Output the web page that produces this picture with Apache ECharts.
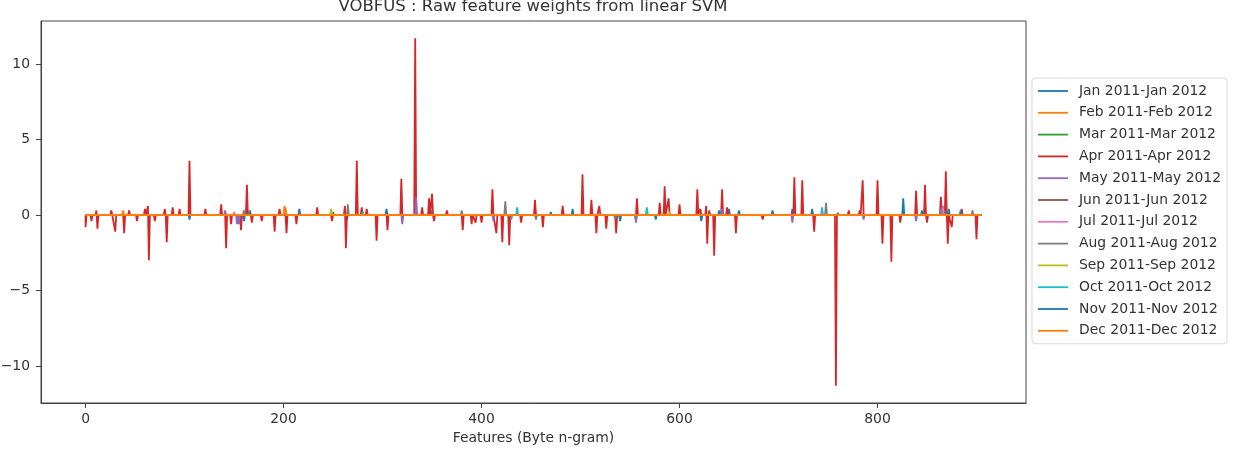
<!DOCTYPE html>
<html>
<head>
<meta charset="utf-8">
<script src="https://cdn.jsdelivr.net/npm/echarts@6/dist/echarts.min.js"></script>
<style>
  html, body { margin: 0; padding: 0; background: #fff; }
  #chart { width: 1233px; height: 449px; }
</style>
</head>
<body>
<div id="chart"></div>
<script>
// legend names, in plot order
const seriesNames = [
  'Jan 2011-Jan 2012', 'Feb 2011-Feb 2012', 'Mar 2011-Mar 2012', 'Apr 2011-Apr 2012',
  'May 2011-May 2012', 'Jun 2011-Jun 2012', 'Jul 2011-Jul 2012', 'Aug 2011-Aug 2012',
  'Sep 2011-Sep 2012', 'Oct 2011-Oct 2012', 'Nov 2011-Nov 2012', 'Dec 2011-Dec 2012'
];
const seriesColors = ['#1f77b4', '#ff7f0e', '#2ca02c', '#d62728', '#9467bd', '#8c564b',
  '#e377c2', '#7f7f7f', '#bcbd22', '#17becf', '#1f77b4', '#ff7f0e'];

const xTicks = [0, 200, 400, 600, 800];
const yTicks = [-10, -5, 0, 5, 10];
const lastFeature = 905;

// non-zero weights: [feature index, weight]
const janW = [[105, -0.3], [160, -0.4], [166, 0.3], [216, 0.4], [264, -0.3], [304, 0.4], [470, 0.2],
  [482, 0.3], [492, 0.4], [540, -0.4], [576, -0.3], [622, -0.4], [650, 0.4], [694, 0.3], [714, 0.4],
  [734, 0.4], [800, 0.4]];
const febW = [[38, 0.3], [202, 0.5]];
const marW = [[250, 0.2], [760, 0.15]];
const aprW = [[0, -0.8], [6, -0.4], [11, 0.3], [12, -0.9], [26, 0.3], [30, -1.1], [39, -1.2], [44, 0.3],
  [52, -0.4], [60, 0.4], [63, 0.6], [64, -3.0], [70, -0.4], [80, 0.4], [82, -1.8], [88, 0.5], [95, 0.4],
  [105, 3.6], [121, 0.4], [137, 0.7], [142, -2.2], [147, -0.6], [157, -1.0], [163, 2.0], [168, -0.5],
  [178, -0.4], [191, -1.1], [196, 0.4], [203, -1.2], [213, -0.6], [234, 0.5], [249, -0.4], [262, 0.6],
  [263, -2.2], [274, 3.6], [279, 0.5], [284, 0.4], [294, -1.7], [305, -1.0], [319, 2.4], [333, 11.7],
  [340, 0.5], [347, 1.1], [350, 1.4], [352, -0.4], [365, 0.3], [381, -1.0], [390, -0.6], [394, -0.5],
  [400, -0.5], [411, 1.7], [415, -1.2], [421, -1.8], [428, -2.0], [440, -0.5], [454, 1.0], [462, -0.8],
  [482, 0.6], [502, 2.7], [511, 1.0], [516, -1.2], [519, 0.6], [526, -0.9], [536, -1.2], [557, 1.1],
  [580, 0.8], [585, 1.9], [589, 1.1], [600, 0.7], [618, 1.7], [621, 0.4], [627, 0.6], [628, -1.9],
  [635, -2.7], [643, 1.7], [648, 0.5], [657, -1.2], [684, -0.3], [716, 2.5], [724, 2.3], [736, -1.1],
  [758, -11.3], [771, 0.3], [782, 0.3], [785, 2.3], [800, 2.3], [805, -1.9], [814, -3.1], [823, -0.5],
  [839, 1.6], [848, 2.0], [850, -0.5], [864, 1.2], [869, 2.9], [871, -1.9], [875, -0.8], [885, 0.4],
  [900, -1.6]];
const mayW = [[141, 0.3], [153, -0.6], [155, -0.6], [320, -0.6], [334, 1.2], [412, -0.4], [556, -0.5],
  [643, 0.4], [714, -0.5], [786, -0.3], [839, -0.4], [866, 0.6]];
const junW = [[350, 0.3], [630, 0.3], [869, 0.3]];
const julW = [[150, 0.2], [866, 0.5]];
const augW = [[160, 0.3], [265, 0.7], [380, 0.3], [424, 0.9], [430, -0.3], [455, -0.3], [535, -0.3],
  [556, -0.3], [748, 0.8], [864, 0.4], [896, 0.3]];
const sepW = [[248, 0.4], [590, 0.2]];
const octW = [[280, 0.2], [436, 0.5], [567, 0.5], [744, 0.5]];
const novW = [[640, 0.3], [660, 0.3], [826, 1.1], [845, 0.3], [872, 0.4], [884, 0.3]];
const decW = [[201, 0.6]];

const allWeights = [janW, febW, marW, aprW, mayW, junW, julW, augW, sepW, octW, novW, decW];

// every feature not listed sits on zero, so drop back to the baseline between spikes
function toLine(spikes) {
  const pts = [[0, 0]];
  spikes.forEach(function (p, i) {
    const prev = pts[pts.length - 1][0];
    if (p[0] - 1 > prev) pts.push([p[0] - 1, 0]);
    pts.push(p);
    const next = i < spikes.length - 1 ? spikes[i + 1][0] : lastFeature + 1;
    if (p[0] + 1 < next) pts.push([p[0] + 1, 0]);
  });
  if (pts[pts.length - 1][0] < lastFeature) pts.push([lastFeature, 0]);
  return pts;
}

const font = 'DejaVu Sans';
const textColor = '#333';
const axisColor = '#444';
const minus = function (v) { return String(v).replace('-', '\u2212'); };

const chart = echarts.init(document.getElementById('chart'));
chart.setOption({
  animation: false,
  backgroundColor: '#fff',
  title: {
    text: 'VOBFUS : Raw feature weights from linear SVM',
    left: 533,
    top: -2,
    padding: 0,
    textAlign: 'center',
    textStyle: { fontFamily: font, fontSize: 16.5, fontWeight: 'normal', color: textColor }
  },
  grid: {
    left: 41, top: 21, right: 207, bottom: 46,
    show: true, borderColor: axisColor, borderWidth: 1,
    outerBoundsMode: 'none'
  },
  legend: {
    orient: 'vertical',
    left: 1032,
    top: 78,
    padding: [6, 6, 6, 6],
    itemWidth: 30,
    itemHeight: 14,
    itemGap: 7.8,
    icon: 'path://M0,0L30,0L30,1.8L0,1.8Z',
    backgroundColor: '#fff',
    borderColor: '#d9d9d9',
    borderWidth: 1,
    borderRadius: 3,
    data: seriesNames,
    textStyle: { fontFamily: font, fontSize: 13.9, color: textColor, lineHeight: 14, padding: [0, 0, 0, 6] }
  },
  xAxis: {
    type: 'value',
    min: -45,
    max: 950,
    name: 'Features (Byte n-gram)',
    nameLocation: 'middle',
    nameGap: 27,
    nameTextStyle: { fontFamily: font, fontSize: 13.9, color: textColor },
    axisLine: { show: true, onZero: false, lineStyle: { color: axisColor, width: 1 } },
    axisTick: { show: true, customValues: xTicks, length: 5, lineStyle: { color: axisColor } },
    axisLabel: { customValues: xTicks, margin: 9, fontFamily: font, fontSize: 13.9, color: textColor },
    splitLine: { show: false }
  },
  yAxis: {
    type: 'value',
    min: -12.45,
    max: 12.85,
    axisLine: { show: true, onZero: false, lineStyle: { color: axisColor, width: 1 } },
    axisTick: { show: true, customValues: yTicks, length: 5, lineStyle: { color: axisColor } },
    axisLabel: { customValues: yTicks, margin: 11, fontFamily: font, fontSize: 13.9, color: textColor, formatter: minus },
    splitLine: { show: false }
  },
  series: seriesNames.map(function (name, i) {
    return {
      name: name,
      type: 'line',
      symbol: 'none',
      color: seriesColors[i],
      lineStyle: { width: 1.8, color: seriesColors[i] },
      data: toLine(allWeights[i])
    };
  })
});
</script>
</body>
</html>
